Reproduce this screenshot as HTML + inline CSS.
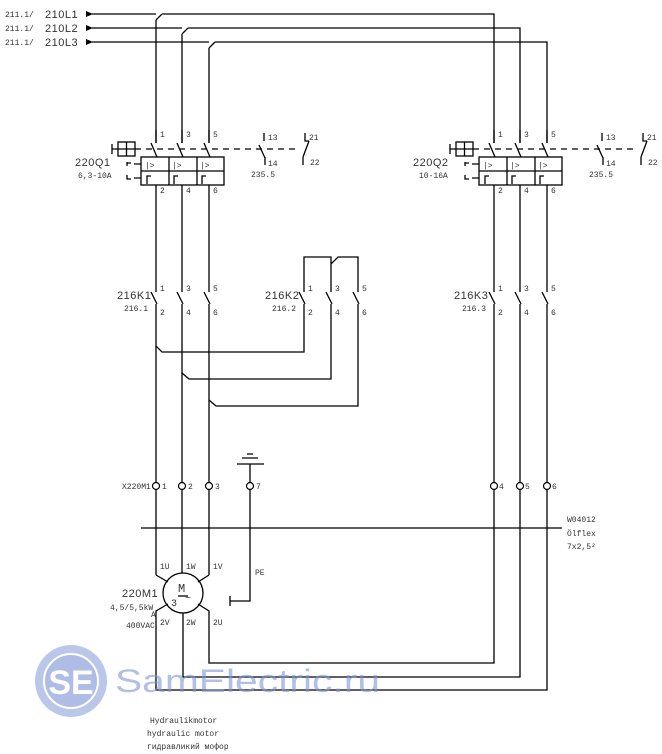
<!DOCTYPE html>
<html><head><meta charset="utf-8"><style>
html,body{margin:0;padding:0;background:#fff;}
svg{display:block;}
text{font-family:"Liberation Mono","DejaVu Sans Mono",monospace;fill:#333;}
.s{font-size:8px;}
.l{font-size:11px;font-family:"Liberation Sans",sans-serif;letter-spacing:0.5px;}
</style></head><body>
<svg width="662" height="754" viewBox="0 0 662 754" xmlns="http://www.w3.org/2000/svg">
<g stroke="#000" stroke-width="1.3" fill="none">
<path d="M92,14 H156 M162,14 H494 V143 M156,20 L162,14"/>
<path d="M92,28 H182 M188,28 H520 V143 M182,34 L188,28"/>
<path d="M92,42 H209 M215,42 H547 V143 M209,48 L215,42"/>
<path d="M156,20 V143 M182,34 V143 M209,48 V143"/>
</g>
<g fill="#000">
<polygon points="86,11 93,14 86,17"/><polygon points="86,25 93,28 86,31"/><polygon points="86,39 93,42 86,45"/>
</g>
<text class="s" x="5" y="17">211.1/</text><text class="l" x="45" y="18">210L1</text>
<text class="s" x="5" y="31">211.1/</text><text class="l" x="45" y="32">210L2</text>
<text class="s" x="5" y="45">211.1/</text><text class="l" x="45" y="46">210L3</text>

<g id="brk">
<g stroke="#000" stroke-width="1.3" fill="none">
<path d="M112,144 V154 M112,149 H118"/>
<rect x="118" y="142" width="17" height="14"/>
<path d="M126.5,142 V156 M118,149 H135"/>
<path d="M135,149 H300" stroke-dasharray="6,5"/>
<path d="M151,143 L157,157 M177,143 L183,157 M204,143 L210,157"/>
<rect x="141" y="157" width="83" height="28"/>
<path d="M141,171 H224 M169,157 V185 M197,157 V185"/>
<path d="M156,185 V292 M182,185 V292 M209,185 V292"/>
<path d="M147,184 V176 H151 M174,184 V176 H178 M202,184 V176 H206"/>
<path d="M127,162 V166 M127,163 H131 M134,164 H141"/>
<path d="M127,175 V179 H131 M134,178 H141"/>
<path d="M264,133 V141 M259,145 L265,158 M265,157 V165"/>
<path d="M305,133 V141 H309 M309,141 L303,157 M303,157 V165"/>
<path d="M151,292 L157,304 M177,292 L183,304 M204,292 L210,304"/>
<path d="M156,130 V143 M182,130 V143 M209,130 V143"/>
</g>
<text class="s" x="145" y="168">|&gt;</text><text class="s" x="172" y="168">|&gt;</text><text class="s" x="200" y="168">|&gt;</text>
<text class="s" x="160" y="137">1</text><text class="s" x="186" y="137">3</text><text class="s" x="213" y="137">5</text>
<text class="s" x="160" y="193">2</text><text class="s" x="186" y="193">4</text><text class="s" x="213" y="193">6</text>
<text class="s" x="268" y="140">13</text><text class="s" x="268" y="166">14</text><text class="s" x="251" y="177">235.5</text>
<text class="s" x="309" y="140">21</text><text class="s" x="310" y="165">22</text>
<text class="s" x="160" y="291">1</text><text class="s" x="186" y="291">3</text><text class="s" x="213" y="291">5</text>
<text class="s" x="160" y="315">2</text><text class="s" x="186" y="315">4</text><text class="s" x="213" y="315">6</text>
</g>
<use href="#brk" transform="translate(338,0)"/>
<text class="l" x="75" y="166">220Q1</text><text class="s" x="78" y="178">6,3-10A</text>
<text class="l" x="413" y="166">220Q2</text><text class="s" x="419" y="178">10-16A</text>
<text class="l" x="117" y="299">216K1</text><text class="s" x="124" y="311">216.1</text>
<text class="l" x="265" y="299">216K2</text><text class="s" x="272" y="311">216.2</text>
<text class="l" x="454" y="299">216K3</text><text class="s" x="462" y="311">216.3</text>
<text class="s" x="308" y="291">1</text><text class="s" x="335" y="291">3</text><text class="s" x="362" y="291">5</text>
<text class="s" x="308" y="315">2</text><text class="s" x="335" y="315">4</text><text class="s" x="362" y="315">6</text>

<g stroke="#000" stroke-width="1.3" fill="none">
<path d="M304,292 V257 H331 V292 M331,264 L338,257 H358 V292"/>
<path d="M299,292 L305,304 M326,292 L332,304 M353,292 L359,304"/>
<path d="M156,346 L162,352 H304 V304 M182,373 L189,379 H331 V304 M209,400 L216,406 H358 V304"/>
<path d="M156,304 V575 M182,304 V573 M209,304 V575"/>
<path d="M237,464 H264 M242,458 H258 M247,454 H253 M250,464 V601 H230 M230,596 V606"/>
<path d="M141,528 H562"/>
<circle cx="183" cy="593" r="20"/>
<path d="M156,575 L168,582 M209,575 L198,582"/>
<path d="M168,604 L156,611 V690 H547 V304 M183,613 V677 H520 V304 M198,604 L209,611 V663 H494 V304"/>
<path d="M178,596 H188"/>
</g>
<g fill="#fff" stroke="#000" stroke-width="1.2">
<circle cx="156" cy="486" r="3.5"/><circle cx="182" cy="486" r="3.5"/><circle cx="209" cy="486" r="3.5"/><circle cx="250" cy="486" r="3.5"/>
<circle cx="494" cy="486" r="3.5"/><circle cx="520" cy="486" r="3.5"/><circle cx="547" cy="486" r="3.5"/>
</g>
<text class="s" x="122" y="489">X220M1</text>
<text class="s" x="162" y="489">1</text><text class="s" x="188" y="489">2</text><text class="s" x="215" y="489">3</text><text class="s" x="256" y="489">7</text>
<text class="s" x="499" y="489">4</text><text class="s" x="525" y="489">5</text><text class="s" x="552" y="489">6</text>
<text class="s" x="567" y="522">W04012</text><text class="s" x="567" y="536">Ölflex</text><text class="s" x="567" y="549">7x2,5²</text>
<text class="s" x="160" y="569">1U</text><text class="s" x="186" y="569">1W</text><text class="s" x="213" y="569">1V</text>
<text class="s" x="255" y="575">PE</text>
<text class="s" x="160" y="625">2V</text><text class="s" x="186" y="625">2W</text><text class="s" x="213" y="625">2U</text>
<text class="l" x="122" y="597">220M1</text><text class="s" x="110" y="610">4,5/5,5kW</text>
<text class="s" x="151" y="617">A</text><text class="s" x="126" y="628">400VAC</text>
<text x="178" y="592" style="font-size:12px">M</text><text x="171" y="606" style="font-size:10px">3</text><text x="185" y="601" style="font-size:10px">~</text>
<text class="s" x="150" y="723">Hydraulikmotor</text>
<text class="s" x="147" y="736">hydraulic motor</text>
<text class="s" x="147" y="749">гидравликий мофор</text>

<g opacity="0.6">
<circle cx="71" cy="681" r="36" fill="#8fa3db"/>
<circle cx="71" cy="681" r="27" fill="#7b92d6" stroke="#fff" stroke-width="2"/>
<text x="71" y="694" text-anchor="middle" style="font-family:'Liberation Sans',sans-serif;font-weight:bold;font-size:34px;fill:#fff">SE</text>
<text x="115" y="692" textLength="265" lengthAdjust="spacingAndGlyphs" style="font-family:'Liberation Sans',sans-serif;font-size:32px;fill:#7f96d6">SamElectric.ru</text>
</g>
</svg>
</body></html>
